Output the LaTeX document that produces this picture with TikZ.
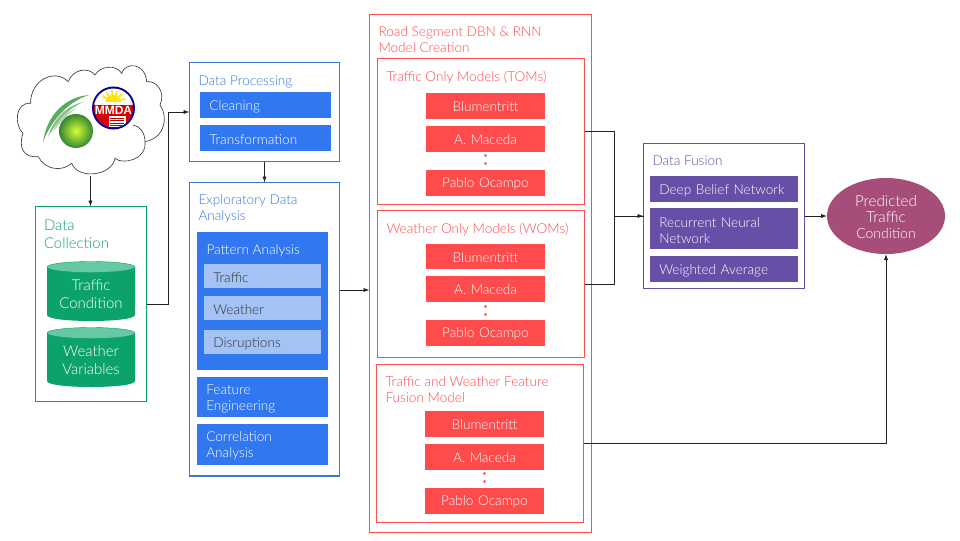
\documentclass[tikz,border=0pt]{standalone}
\usepackage{fontspec}
\setmainfont{Lato Light}
\newfontfamily\sealfont{Liberation Sans}
\usetikzlibrary{arrows.meta,shapes.geometric}
\definecolor{cgreen}{HTML}{0BA36A}
\definecolor{cgreenl}{HTML}{66C9A4}
\definecolor{cblue}{HTML}{3178F0}
\definecolor{cblueb}{HTML}{3C78D8}
\definecolor{cbluel}{HTML}{A4C2F4}
\definecolor{cred}{HTML}{FF4B4B}
\definecolor{cpurple}{HTML}{674EA7}
\definecolor{cmaroon}{HTML}{A64D79}
\definecolor{cline}{HTML}{222222}
\tikzset{
  x=0.75pt,y=-0.75pt,
  boxbase/.style={rectangle,outer sep=0pt,inner sep=0pt},
  frame/.style={boxbase,draw=#1,line width=0.8pt,fill=white},
  bartext/.style={boxbase,text=white,align=left,font=\fontsize{10.2}{12}\selectfont},
  title/.style={anchor=north west,inner sep=0pt,outer sep=0pt,text=#1,align=left,font=\fontsize{10.2}{12}\selectfont},
  conn/.style={draw=cline,line width=0.65pt,-{Latex[length=4.5pt,width=3.2pt]}},
  plainconn/.style={draw=cline,line width=0.65pt},
  dot/.style={circle,fill=cred!85,inner sep=0pt,minimum size=2.5pt},
  cyltext/.style={text=white,align=center,inner sep=0pt,font=\fontsize{11.2}{13.5}\selectfont},
}
\def\bxshift{1.7}
% \bx{name}{x1}{y1}{x2}{y2}{fill}{text style}{text}
\newcommand{\bx}[8]{%
  \fill[#6] (#2,#3) rectangle (#4,#5);%
  \pgfmathsetmacro{\bxcx}{(#2+#4)/2}%
  \pgfmathsetmacro{\bxcy}{(#3+#5)/2+\bxshift}%
  \pgfmathsetmacro{\bxtw}{(#4-#2)*0.75-14}%
  \node[bartext,#7,text width=\bxtw pt] (#1) at (\bxcx,\bxcy) {#8};%
}
% \frm{name}{x1}{y1}{x2}{y2}{colour}
\newcommand{\frm}[6]{%
  \pgfmathsetmacro{\bxcx}{(#2+#4)/2}%
  \pgfmathsetmacro{\bxcy}{(#3+#5)/2}%
  \pgfmathsetmacro{\bxw}{(#4-#2)*0.75}%
  \pgfmathsetmacro{\bxh}{(#5-#3)*0.75}%
  \node[frame=#6,minimum width=\bxw pt,minimum height=\bxh pt] (#1) at (\bxcx,\bxcy) {};%
}
% \cyl{top}{text}{name}
\newcommand{\cyl}[3]{%
  \fill[cgreen] (47,#1+6) -- (47,#1+54) .. controls (47,#1+62) and (135,#1+62) .. (135,#1+54) -- (135,#1+6) -- cycle;
  \fill[cgreenl,draw=cgreen,line width=0.3pt] (91,#1+6) ellipse [x radius=44,y radius=5.5];
  \pgfmathsetmacro{\bxcy}{#1+33}%
  \node[cyltext] (#3) at (91,\bxcy) {#2};%
}
\begin{document}
\begin{tikzpicture}
\useasboundingbox (0,0) rectangle (960,540);
\fill[white] (0,0) rectangle (960,540);

% cloud
\draw[fill=white,draw=black!75,line width=0.5pt]
 (30.7,103.3) .. controls (30,80) and (55,68) .. (68.3,81.7)
 .. controls (72,70) and (88,66) .. (95,75)
 .. controls (100,66) and (116,64) .. (121.7,73.3)
 .. controls (125,62) and (145,62) .. (146.7,81.7)
 .. controls (156,80) and (166,92) .. (160,105)
 .. controls (168,115) and (166,138) .. (145,141.7)
 .. controls (147,160) and (122,165) .. (115,158.3)
 .. controls (112,176) and (78,180) .. (71.7,163.3)
 .. controls (62,172) and (45,170) .. (38.3,156.7)
 .. controls (24,158) and (18,148) .. (23,133.3)
 .. controls (14,125) and (15,102) .. (30.7,103.3) -- cycle;
\draw[draw=black!75,line width=0.5pt] (133,125) .. controls (140,126) and (145,133) .. (145,141.7);
\coordinate (cloudbottom) at (90.5,176);

% logo: swooshes and globe
\fill[green!50!black!65] (43,142) .. controls (47,115) and (65,97) .. (89,95) .. controls (70,101) and (52,118) .. (43,142) -- cycle;
\fill[green!45!black!45] (48,137) .. controls (53,119) and (66,106) .. (83,102) .. controls (70,108) and (58,120) .. (48,137) -- cycle;
\fill[green!45!black!30] (53,132) .. controls (57,120) and (67,112) .. (77,108) .. controls (68,114) and (60,122) .. (53,132) -- cycle;
\shade[inner color=yellow!80!green!80,outer color=green!55!black!60!gray,shading=radial] (76,131) circle [radius=17];
% logo: seal
\fill[blue!60!black] (113.5,108) circle [radius=21.5];
\begin{scope}
\clip (113.5,108) circle [radius=19.5];
\fill[white] (92,86) rectangle (136,104);
\fill[yellow!90!orange] (113,103) circle [radius=8];
\foreach \a in {20,45,...,160} {\draw[yellow!90!orange,line width=1.2pt] (113,103) -- ++({13*cos(\a)},{-13*sin(\a)});}
\fill[white] (92,102) rectangle (136,105);
\fill[red!85!black] (92,105) rectangle (136,130);
\fill[white] (109,116) rectangle (126,127);
\foreach \ly in {118,120.5,123,125.5} {\draw[red!70!black,line width=0.4pt] (110,\ly) -- (124,\ly);}
\end{scope}
\node[inner sep=0pt,text=white,font=\fontsize{9}{10}\selectfont\sealfont\bfseries] (mmda) at (113.5,110) {MMDA};

% Data Collection
\frm{dc}{35.5}{206.5}{146.5}{401.5}{cgreen}
\node[title=cgreen,font=\fontsize{11.2}{13.5}\selectfont] (dctitle) at (44,220) {Data\\Collection};
\cyl{261}{Traffic\\Condition}{cyla}
\cyl{327}{Weather\\Variables}{cylb}

% Data Processing
\frm{dp}{189.5}{62.5}{339.5}{161.5}{cblueb}
\node[title=cblueb] (dptitle) at (198.5,76) {Data Processing};
\bx{clean}{200}{92}{331}{118}{cblue}{}{Cleaning}
\bx{trans}{200}{125}{331}{151}{cblue}{}{Transformation}

% EDA
\frm{eda}{189.5}{182.5}{339.5}{476}{cblueb}
\node[title=cblueb] (edatitle) at (198.5,195) {Exploratory Data\\Analysis};
\fill[cblue] (197,232) rectangle (328,370);
\node[title=white] (pattitle) at (206.5,244.5) {Pattern Analysis};
\bx{ptraffic}{204}{264}{321}{288}{cbluel}{text=black!80}{Traffic}
\bx{pweather}{204}{296}{321}{320}{cbluel}{text=black!80}{Weather}
\bx{pdisrupt}{204}{330}{321}{354}{cbluel}{text=black!80}{Disruptions}
\bx{feat}{197}{377}{328}{417}{cblue}{}{Feature\\Engineering}
\bx{corr}{197}{424}{328}{465}{cblue}{}{Correlation\\Analysis}

% Road segment
\frm{road}{369.5}{14.5}{591.5}{532.5}{cred}
\node[title=cred] (roadtitle) at (378.5,26.5) {Road Segment DBN \& RNN\\Model Creation};
\frm{tom}{377.5}{58.5}{584.5}{204.5}{cred}
\node[title=cred] (tomtitle) at (386.5,71) {Traffic Only Models (TOMs)};
\frm{wom}{377.5}{210.5}{584.5}{357.5}{cred}
\node[title=cred] (womtitle) at (386.5,223) {Weather Only Models (WOMs)};
\frm{twf}{376.5}{364.5}{583.5}{522.5}{cred}
\node[title=cred] (twftitle) at (385.5,376.5) {Traffic and Weather Feature\\Fusion Model};

\def\bxshift{0.7}
\bx{ta}{426}{93}{545}{119}{cred}{align=center}{Blumentritt}
\bx{tb}{426}{126}{545}{152}{cred}{align=center}{A. Maceda}
\bx{tc}{426}{170}{545}{196}{cred}{align=center}{Pablo Ocampo}
\node[dot] (td1) at (485.5,155.5) {}; \node[dot] (td2) at (485.5,163.5) {};
\bx{wa}{426}{244}{545}{269}{cred}{align=center}{Blumentritt}
\bx{wb}{426}{276}{545}{302}{cred}{align=center}{A. Maceda}
\bx{wc}{426}{320}{545}{346}{cred}{align=center}{Pablo Ocampo}
\node[dot] (wd1) at (485.5,306.5) {}; \node[dot] (wd2) at (485.5,314.5) {};
\bx{fa}{425}{411}{544}{437}{cred}{align=center}{Blumentritt}
\bx{fb}{425}{444}{544}{470}{cred}{align=center}{A. Maceda}
\bx{fc}{425}{488}{544}{514}{cred}{align=center}{Pablo Ocampo}
\node[dot] (fd1) at (484.5,473.5) {}; \node[dot] (fd2) at (484.5,481.5) {};

% Data Fusion
\def\bxshift{1.7}
\frm{fus}{643.5}{143.5}{804.5}{288.5}{cpurple}
\node[title=cpurple] (fustitle) at (652.5,155.5) {Data Fusion};
\bx{dbn}{650}{176}{798}{202}{cpurple}{}{Deep Belief Network}
\bx{rnn}{650}{208}{798}{249}{cpurple}{}{Recurrent Neural\\Network}
\bx{wav}{650}{256}{798}{282}{cpurple}{}{Weighted Average}

% Predicted
\node[ellipse,fill=cmaroon,inner sep=0pt,outer sep=0pt,minimum width=88.5pt,minimum height=57pt] (pred) at (886,216) {};
\node[text=white,align=center,inner sep=0pt] (predtext) at (886,217.5) {\fontsize{11.4}{13}\selectfont Predicted\\\fontsize{11.4}{13}\selectfont Traffic\\\fontsize{10.5}{13}\selectfont Condition};

% connectors
\coordinate (edaout) at (339.5,290);
\coordinate (roadin) at (369.5,290);
\draw[conn] (cloudbottom) -- (dc.north -| cloudbottom);
\draw[conn] (dc.east) -- ++(22,0) |- (dp.west);
\draw[conn] (dp.south) -- (eda.north);
\draw[conn] (edaout) -- (roadin);
\draw[conn] (tom.east) -- ++(30,0) |- (fus.west);
\draw[plainconn] (wom.east) -- ++(30,0) |- (fus.west);
\draw[conn] (fus.east) -- (pred.west);
\draw[conn] (twf.east) -| (pred.south);
\end{tikzpicture}
\end{document}
